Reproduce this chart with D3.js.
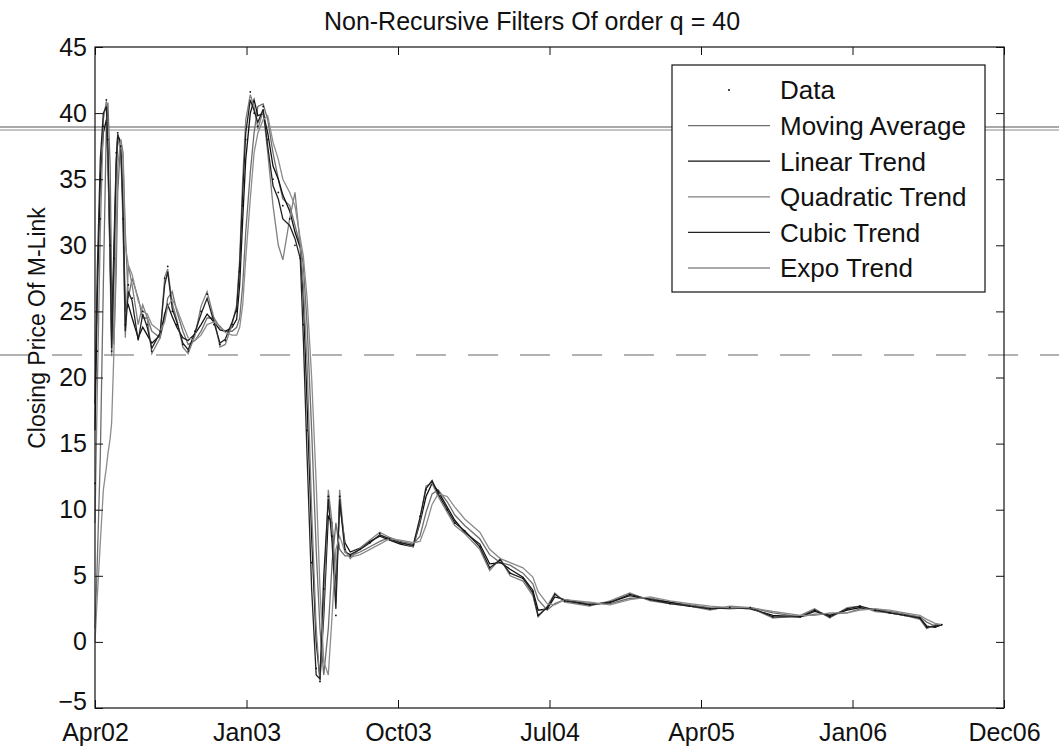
<!DOCTYPE html>
<html>
<head>
<meta charset="utf-8">
<script src="https://cdn.jsdelivr.net/npm/d3@7"></script>
<style>
  body { margin: 0; background: #fff; }
  text { font-family: "Liberation Sans", Arial, sans-serif; fill: #111; }
</style>
</head>
<body>
<svg></svg>
<script>
// trading-day index of each sample
const days = [
  0, 3, 7, 11, 15, 17, 20, 22, 25, 28,
  30, 34, 37, 40, 44, 49, 57, 63, 69, 75,
  86, 92, 96, 102, 108, 116, 123, 132, 140, 148,
  157, 165, 172, 181, 187, 191, 195, 199, 205, 210,
  215, 222, 228, 235, 242, 248, 257, 264, 271, 275,
  280, 286, 292, 297, 302, 308, 313, 318, 323, 330,
  337, 350, 363, 376, 389, 403, 420, 429, 437, 445,
  453, 465, 475, 488, 508, 521, 535, 548, 565, 578,
  585, 597, 607, 620, 653, 680, 706, 733, 759, 785,
  812, 838, 865, 895, 931, 950, 970, 993, 1010, 1030,
  1049, 1069, 1089, 1098, 1109, 1118
];

const closing = [
  12, 22, 32, 39, 41, 38, 30, 22, 29, 37,
  38.5, 37.5, 32, 24, 27, 26, 23, 25, 24, 22,
  23.5, 27.5, 28.4, 25, 24, 22.5, 22, 23.5, 25, 26.3,
  24, 22.5, 22.8, 24, 25, 28, 33, 38, 41.6, 40,
  39, 40.5, 38, 35, 34, 33, 32, 30, 29, 24,
  16, 6, -2, -3, 4, 11, 8, 2, 11, 7,
  6.5, 7, 7.5, 8.2, 7.8, 7.5, 7.3, 9.5, 11.5, 12.1,
  11.2, 10, 9, 8.4, 7.2, 5.6, 6.2, 5.2, 4.8, 3.8,
  2, 2.6, 3.6, 3.1, 2.8, 3, 3.6, 3.2, 2.9, 2.7,
  2.5, 2.6, 2.6, 1.9, 1.9, 2.4, 1.9, 2.5, 2.7, 2.4,
  2.2, 2, 1.8, 1.1, 1.2, 1.3
];

const movingAvg = [
  1, 6, 14, 27, 39, 40.8, 36, 27, 22.5, 28,
  34, 38, 37, 31, 26, 27.5, 26, 24.5, 24.5, 23.5,
  23, 24.5, 26, 26.5, 25, 23.5, 22.5, 22.8, 23.5, 24.5,
  24.5, 23.8, 23.5, 23.5, 23.8, 24.5, 27, 31, 35.5, 38.5,
  40.5, 40.7, 39.5, 37, 35, 33.5, 33, 31.5, 30, 28.5,
  24, 16, 7, 1, -2.5, 1, 6, 9, 7, 6.5,
  6.5, 6.8, 7.2, 7.6, 7.9, 7.6, 7.4, 8, 9.8, 11.2,
  11.5, 10.6, 9.6, 8.8, 7.8, 6.6, 6, 5.8, 5.2, 4.4,
  3.2, 2.4, 2.9, 3.2, 2.9, 2.9, 3.3, 3.3, 3, 2.8,
  2.6, 2.5, 2.6, 2.2, 1.9, 2.1, 2.1, 2.2, 2.5, 2.5,
  2.3, 2.1, 1.9, 1.5, 1.2, 1.3
];

const linearTrend = [
  16, 26, 35, 38.5, 39.5, 36.5, 29, 23, 30, 36.5,
  38.3, 37.8, 33, 25, 25.5, 24.5, 23, 23.8, 23.2, 22.6,
  23.2, 24.8, 25.5, 24.6, 23.8, 23, 22.8, 23.3, 24, 24.8,
  24.2, 23.6, 23.5, 23.8, 24.4, 27, 32, 36.5, 40, 41,
  39.8, 40, 38.5, 36, 35, 33.8, 32.6, 31, 29.8, 26,
  18, 8, 0, -2.8, 2, 9.5, 9, 4, 10.5, 7.5,
  6.8, 7.1, 7.6, 8, 7.7, 7.4, 7.2, 9, 11, 12,
  11.4, 10.2, 9.2, 8.3, 7.4, 5.9, 6, 5.5, 4.9, 3.9,
  2.4, 2.5, 3.4, 3.2, 2.8, 3, 3.5, 3.2, 3, 2.7,
  2.5, 2.6, 2.5, 2, 1.9, 2.3, 2, 2.4, 2.6, 2.4,
  2.2, 2, 1.8, 1.2, 1.1, 1.3
];

const quadTrend = [
  9, 19, 31, 39.5, 40.9, 37, 28, 21.6, 27.5, 35,
  38, 37.2, 31.5, 23, 28.5, 27, 24, 25.5, 24.5, 21.8,
  23, 27.6, 28.2, 25.6, 24.4, 22.3, 21.8, 23.2, 25.4, 26.5,
  24.5, 22.3, 22.5, 24, 25.5, 29, 35, 39.5, 41.4, 40.5,
  38.8, 40.2, 37, 33, 30, 28.9, 32, 34, 30, 27,
  21, 10, 1, -3, 3, 11.5, 9, 3, 11.5, 7,
  6.3, 7.1, 7.7, 8.3, 7.9, 7.5, 7.2, 9.2, 11.8, 12,
  11, 9.8, 8.8, 8.2, 7, 5.4, 6.3, 5, 4.6, 3.5,
  1.9, 2.7, 3.7, 3, 2.7, 3.1, 3.7, 3.1, 2.9, 2.7,
  2.4, 2.7, 2.6, 1.8, 2, 2.5, 1.8, 2.6, 2.7, 2.3,
  2.2, 2, 1.7, 1, 1.3, 1.3
];

const cubicTrend = [
  18, 28, 36.5, 40, 40.5, 37.5, 29.5, 22.2, 28.5, 36,
  38.4, 37.6, 32.5, 23.5, 26.5, 25.8, 22.8, 24.8, 23.8, 22.2,
  23.4, 27, 28, 25.2, 24.2, 22.6, 22.1, 23.4, 24.8, 26,
  24.2, 22.6, 22.9, 24.2, 25.2, 28.5, 34, 38.5, 41, 40.2,
  39.3, 40.3, 37.5, 34.5, 33.5, 32, 31.5, 30.5, 29, 23,
  14, 4, -2.5, -2.8, 5, 10.8, 7.5, 2.5, 10.8, 6.8,
  6.6, 7, 7.5, 8.1, 7.8, 7.5, 7.3, 9.4, 11.6, 12.2,
  11.2, 10, 9, 8.4, 7.2, 5.6, 6.2, 5.2, 4.8, 3.7,
  2, 2.6, 3.6, 3.1, 2.8, 3, 3.6, 3.2, 2.9, 2.7,
  2.5, 2.6, 2.6, 1.9, 1.9, 2.4, 1.9, 2.5, 2.7, 2.4,
  2.2, 2, 1.8, 1.1, 1.2, 1.3
];

const expoTrend = [
  0, 3.4, 7.5, 11.5, 13.2, 14.2, 15.4, 16.6, 22, 31,
  36, 38, 36.5, 30, 28.5, 27.8, 25.8, 25, 24.8, 24,
  23.5, 24.2, 25.4, 25.9, 25.2, 24, 23, 22.8, 23.2, 24,
  24.2, 23.9, 23.4, 23.2, 23.2, 23.8, 25.5, 29, 33.5, 37,
  38.5, 39.5, 39.8, 37.8, 36.5, 35, 34, 33, 30.5, 29.2,
  26, 20, 12, 4, -1.5, -2.5, 2, 7, 8, 6.8,
  6.4, 6.6, 7, 7.4, 7.8, 7.7, 7.5, 7.6, 8.8, 10.4,
  11.2, 11, 10.2, 9.3, 8.3, 7, 6.3, 6, 5.6, 4.9,
  3.8, 2.9, 2.8, 3.2, 3, 2.8, 3.2, 3.4, 3.1, 2.9,
  2.7, 2.6, 2.6, 2.3, 2, 2, 2.2, 2.2, 2.4, 2.5,
  2.4, 2.2, 2, 1.7, 1.4, 1.3
];

const xTicks = [0, 200, 400, 600, 800, 1000, 1200];
const xTickLabels = ["Apr02", "Jan03", "Oct03", "Jul04", "Apr05", "Jan06", "Dec06"];
const yTicks = [-5, 0, 5, 10, 15, 20, 25, 30, 35, 40, 45];
const seriesNames = ["Moving Average", "Linear Trend", "Quadratic Trend", "Cubic Trend", "Expo Trend"];

const width = 1059;
const height = 753;
const plotLeft = 95, plotRight = 1004, plotTop = 47, plotBottom = 708;

const svg = d3.select("svg")
  .attr("width", width)
  .attr("height", height)
  .style("display", "block");

const xScale = d3.scaleLinear().domain([0, 1200]).range([plotLeft, plotRight]);
const yScale = d3.scaleLinear().domain([-5, 45]).range([plotBottom, plotTop]);

const series = [
  { name: seriesNames[0], values: movingAvg, color: "#6e6e6e" },
  { name: seriesNames[1], values: linearTrend, color: "#111" },
  { name: seriesNames[2], values: quadTrend, color: "#808080" },
  { name: seriesNames[3], values: cubicTrend, color: "#222" },
  { name: seriesNames[4], values: expoTrend, color: "#8c8c8c" }
];

// scan lines that run across the page
svg.append("line").attr("x1", 0).attr("x2", width).attr("y1", 127).attr("y2", 127)
  .attr("stroke", "#555").attr("stroke-width", 1.2);
svg.append("line").attr("x1", 0).attr("x2", width).attr("y1", 130).attr("y2", 130)
  .attr("stroke", "#888").attr("stroke-width", 1);
svg.append("line").attr("x1", 0).attr("x2", width).attr("y1", 355).attr("y2", 355)
  .attr("stroke", "#666").attr("stroke-width", 1).attr("stroke-dasharray", "30,22");

// lines
const line = d3.line()
  .x((d, i) => xScale(days[i]))
  .y(d => yScale(d));

svg.selectAll(".trend")
  .data(series).enter().append("path")
  .attr("class", "trend")
  .attr("d", d => line(d.values))
  .attr("fill", "none")
  .attr("stroke", d => d.color)
  .attr("stroke-width", 1.3);

// raw data as dots
svg.selectAll(".dot")
  .data(closing).enter().append("circle")
  .attr("class", "dot")
  .attr("cx", (d, i) => xScale(days[i]))
  .attr("cy", d => yScale(d))
  .attr("r", 0.9)
  .attr("fill", "#111");

// axes
const bottomAxis = svg.append("g")
  .attr("transform", `translate(0, ${plotBottom})`)
  .call(d3.axisBottom(xScale).tickValues(xTicks)
    .tickFormat((d, i) => xTickLabels[i]).tickSizeInner(-8).tickSizeOuter(0).tickPadding(15));
const leftAxis = svg.append("g")
  .attr("transform", `translate(${plotLeft}, 0)`)
  .call(d3.axisLeft(yScale).tickValues(yTicks).tickSizeInner(-8).tickSizeOuter(0).tickPadding(8));
const topAxis = svg.append("g")
  .attr("transform", `translate(0, ${plotTop})`)
  .call(d3.axisTop(xScale).tickValues(xTicks).tickFormat("").tickSizeInner(-8).tickSizeOuter(0));
const rightAxis = svg.append("g")
  .attr("transform", `translate(${plotRight}, 0)`)
  .call(d3.axisRight(yScale).tickValues(yTicks).tickFormat("").tickSizeInner(-8).tickSizeOuter(0));

[bottomAxis, leftAxis, topAxis, rightAxis].forEach(g => {
  g.select(".domain").remove();
  g.selectAll("line").attr("stroke", "#111");
  g.selectAll("text").style("font-size", "25px").attr("fill", "#111");
});
// the -5 label sits a little higher, just above Apr02
leftAxis.selectAll(".tick text").filter(d => d === -5).attr("dy", "0.05em");

svg.append("rect")
  .attr("x", plotLeft).attr("y", plotTop)
  .attr("width", plotRight - plotLeft).attr("height", plotBottom - plotTop)
  .attr("fill", "none").attr("stroke", "#111").attr("stroke-width", 1.2);

// title and axis label
svg.append("text")
  .attr("x", 532).attr("y", 30)
  .attr("text-anchor", "middle")
  .style("font-size", "25px")
  .text("Non-Recursive Filters Of order q = 40");

svg.append("text")
  .attr("transform", "translate(45, 328) rotate(-90)")
  .attr("text-anchor", "middle")
  .style("font-size", "23px")
  .attr("fill", "#333")
  .text("Closing Price Of M-Link");

// legend
const legend = svg.append("g");
legend.append("rect")
  .attr("x", 672).attr("y", 65).attr("width", 313).attr("height", 227)
  .attr("fill", "#fff").attr("stroke", "#111").attr("stroke-width", 1.2);

const rowY = i => 90 + i * 35.6;
legend.append("circle").attr("cx", 729).attr("cy", rowY(0)).attr("r", 1).attr("fill", "#111");
legend.append("text").attr("x", 780).attr("y", rowY(0)).attr("dy", "0.36em")
  .style("font-size", "26px").text("Data");

legend.selectAll(".key")
  .data(series).enter().append("line")
  .attr("class", "key")
  .attr("x1", 688).attr("x2", 770)
  .attr("y1", (d, i) => rowY(i + 1)).attr("y2", (d, i) => rowY(i + 1))
  .attr("stroke", d => d.color).attr("stroke-width", 1.3);

legend.selectAll(".label")
  .data(series).enter().append("text")
  .attr("class", "label")
  .attr("x", 780).attr("y", (d, i) => rowY(i + 1)).attr("dy", "0.36em")
  .style("font-size", "26px")
  .text(d => d.name);
</script>
</body>
</html>
